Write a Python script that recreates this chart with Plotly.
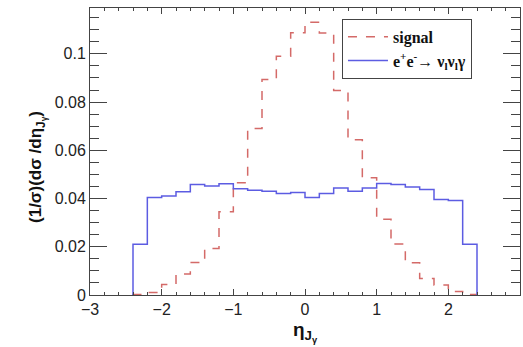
import plotly.graph_objects as go

bin_left = [-2.4, -2.2, -2.0, -1.8, -1.6, -1.4, -1.2, -1.0, -0.8, -0.6, -0.4, -0.2,
            0.0, 0.2, 0.4, 0.6, 0.8, 1.0, 1.2, 1.4, 1.6, 1.8, 2.0, 2.2]
bin_right_end = 2.4

signal = [0.0002, 0.0010, 0.0044, 0.0087, 0.0135, 0.0193, 0.0345, 0.0465, 0.0690, 0.0894,
          0.0990, 0.1087, 0.1131, 0.1086, 0.0848, 0.0644, 0.0486, 0.0314, 0.0211, 0.0134,
          0.0068, 0.0041, 0.0014, 0.0002]
background = [0.0210, 0.0404, 0.0410, 0.0428, 0.0458, 0.0452, 0.0461, 0.0441, 0.0434, 0.0430,
              0.0421, 0.0425, 0.0404, 0.0421, 0.0444, 0.0430, 0.0444, 0.0462, 0.0458, 0.0448,
              0.0437, 0.0396, 0.0392, 0.0210]

x_ticks = [-3, -2, -1, 0, 1, 2, 3]
x_tick_labels = ["\u22123", "\u22122", "\u22121", "0", "1", "2", "3"]
y_ticks = [0, 0.02, 0.04, 0.06, 0.08, 0.1]
y_tick_labels = ["0", "0.02", "0.04", "0.06", "0.08", "0.1"]

X_RANGE = [-3, 3]
Y_RANGE = [0, 0.119]


def step_path(vals):
    xs = [bin_left[0]] + bin_left + [bin_right_end]
    ys = [0] + vals + [0]
    return xs, ys


fig = go.Figure()
xs, ys = step_path(signal)
fig.add_trace(go.Scatter(x=xs, y=ys, mode="lines",
                         line=dict(shape="hv", color="#d46a68", width=1.5, dash="dash"),
                         name="signal"))
xs, ys = step_path(background)
fig.add_trace(go.Scatter(x=xs, y=ys, mode="lines",
                         line=dict(shape="hv", color="#5c5ce2", width=1.5),
                         name="e<sup>+</sup>e<sup>-</sup>\u2192 \u03bd<sub>l</sub>\u03bd<sub>l</sub>\u03b3"))

tickfont = dict(family="Liberation Sans, Arial", size=16, color="#222222")
lc = "#444444"
common = dict(showgrid=False, zeroline=False, showline=True, linecolor=lc, linewidth=1,
              ticks="inside", tickcolor=lc, tickfont=tickfont, mirror="allticks")

fig.update_layout(
    width=523, height=347,
    margin=dict(l=90, r=3, t=8, b=52),
    plot_bgcolor="white", paper_bgcolor="white",
    xaxis=dict(range=X_RANGE, tickvals=x_ticks, ticktext=x_tick_labels, ticklen=6,
               minor=dict(dtick=0.2, ticklen=3, ticks="inside", tickcolor=lc, showgrid=False), **common),
    yaxis=dict(range=Y_RANGE, tickvals=y_ticks, ticktext=y_tick_labels, ticklen=17,
               minor=dict(dtick=0.005, ticklen=9, ticks="inside", tickcolor=lc, showgrid=False), **common),
    showlegend=True,
    legend=dict(x=0.586, y=0.962, xanchor="left", yanchor="top", bgcolor="white",
                bordercolor=lc, borderwidth=1,
                font=dict(family="Liberation Serif, Times New Roman", size=16, color="#111111", weight="bold"),
                itemwidth=40),
    annotations=[
        dict(text="<b>(1/\u03c3)(d\u03c3 /d\u03b7<sub>J<sub>\u03b3</sub></sub>)</b>", xref="paper", yref="paper",
             x=-0.121, y=0.446, xanchor="center", yanchor="middle", textangle=-90, showarrow=False,
             font=dict(family="Liberation Sans, Arial", size=17, color="#111111")),
        dict(text="<b>\u03b7<sub>J<sub>\u03b3</sub></sub></b>", xref="paper", yref="paper",
             x=0.5, y=-0.075, xanchor="center", yanchor="top", showarrow=False,
             font=dict(family="Liberation Sans, Arial", size=19, color="#111111")),
    ],
)

fig.write_html("out.html")
